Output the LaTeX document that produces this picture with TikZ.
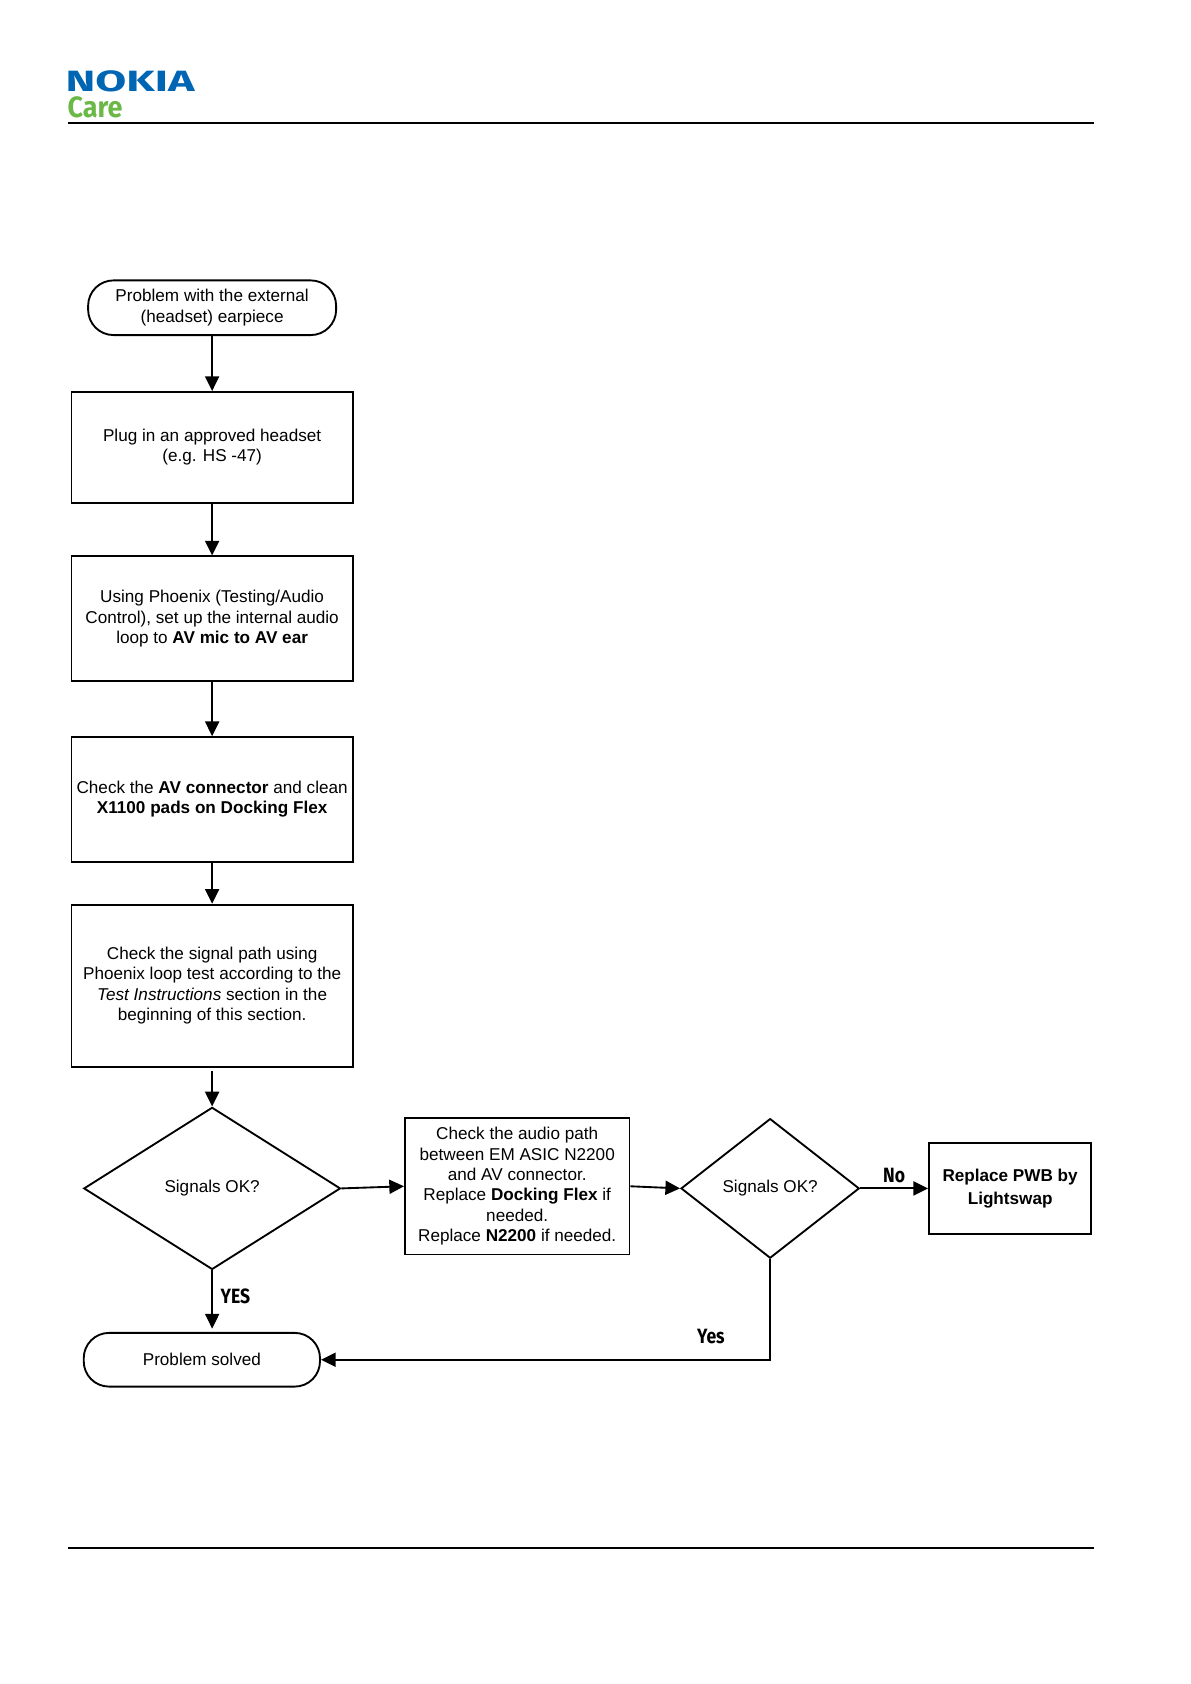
\documentclass[tikz,border=0pt]{standalone}
\usepackage{fontspec}
\setmainfont{Liberation Sans}
\newfontfamily\logofont{Fira Sans}
\usetikzlibrary{shapes,arrows,arrows.meta}
\definecolor{nokiablue}{RGB}{0,101,178}
\definecolor{caregreen}{RGB}{108,184,70}

\begin{document}
\begin{tikzpicture}[
	line width = 1.4pt,
	> = {Triangle[length=11pt, width=10.5pt]},
	every node/.style={font=\fontsize{12.85}{15.3}\selectfont, align=center},
	startnode/.style={rectangle, draw, rounded corners=19pt, minimum width=186pt, minimum height=41pt},
	endnode/.style={rectangle, draw, rounded corners=19pt, minimum width=177.2pt, minimum height=40.3pt},
	boxnode/.style={rectangle, draw, minimum width=211pt, inner sep=1pt},
	choicenode/.style={diamond, draw, inner sep=0pt},
	branchlabel/.style={font=\logofont\bfseries\fontsize{15.5}{17}\selectfont, xscale=0.85},
	]
	\useasboundingbox (0,0) rectangle (893.25pt,-1263pt);
	%Header
	\node[font=\logofont\bfseries\fontsize{22}{22}\selectfont, text=nokiablue, anchor=west, inner sep=0pt, xscale=1.53] (nokia) at (48.2pt,-60.8pt) {NOKIA};
	\node[font=\logofont\bfseries\fontsize{22}{22}\selectfont, text=caregreen, anchor=west, inner sep=0pt, xscale=0.92] (care) at (50pt,-80.8pt) {Care};
	\coordinate (topleft) at (50.7pt,-92.1pt);
	\coordinate (topright) at (820.8pt,-92.1pt);
	\coordinate (bottomleft) at (50.7pt,-1160.7pt);
	\coordinate (bottomright) at (820.8pt,-1160.7pt);

	%Nodes
	\node[startnode] (start) at (159.1pt,-230.8pt) {Problem with the external\\(headset) earpiece};
	\node[boxnode, minimum height=83pt] (plug) [below of = start, node distance=104.7pt] {Plug in an approved headset\\(e.g. HS -47)};
	\node[boxnode, minimum height=93.4pt] (setup) [below of = plug, node distance=128.5pt] {Using Phoenix (Testing/Audio\\Control), set up the internal audio\\loop to \textbf{AV mic to AV ear}};
	\node[boxnode, minimum height=93.4pt] (clean) [below of = setup, node distance=135.5pt] {Check the \textbf{AV connector} and clean\\\textbf{X1100 pads on Docking Flex}};
	\node[boxnode, minimum height=121.6pt] (path) [below of = clean, node distance=139.8pt] {Check the signal path using\\Phoenix loop test according to the\\\textit{Test Instructions} section in the\\beginning of this section.};
	\node[choicenode, minimum width=192.5pt, minimum height=121.6pt] (okfirst) [below of = path, node distance=152pt] {Signals OK?};
	\node[rectangle, draw, minimum width=168.4pt, minimum height=102.3pt, inner sep=1pt, yshift=1.6pt] (audio) [right of = okfirst, node distance=228.8pt] {Check the audio path\\between EM ASIC N2200\\and AV connector.\\Replace \textbf{Docking Flex} if\\needed.\\Replace \textbf{N2200} if needed.};
	\node[choicenode, minimum width=133.7pt, minimum height=104.7pt] (oksecond) [right of = okfirst, node distance=418.5pt] {Signals OK?};
	\node[rectangle, draw, minimum width=121.6pt, minimum height=68.5pt, inner sep=1pt] (swap) [right of = oksecond, node distance=180pt] {\textbf{Replace PWB by}\\[2pt]\textbf{Lightswap}};
	\node[endnode, xshift=-7.7pt] (solved) [below of = okfirst, node distance=128.5pt] {Problem solved};
	\coordinate (corner) at (oksecond.south |- solved.east);

	%Lines
	\draw[->] (start) -- (plug);
	\draw[->] (plug) -- (setup);
	\draw[->] (setup) -- (clean);
	\draw[->] (clean) -- (path);
	\draw[->, shorten <=2.5pt] (path.south) -- (okfirst.north);
	\draw[->] (okfirst.east) -- (audio.west);
	\draw[->] (audio.east) -- (oksecond.west);
	\draw[->] (oksecond.east) -- (swap.west);
	\draw[->, shorten >=2.5pt] (okfirst.south) -- (okfirst.south |- solved.north);
	\draw[->] (oksecond.south) -- (corner) -- (solved.east);
	\draw (topleft) -- (topright);
	\draw (bottomleft) -- (bottomright);

	%Labels
	\node[branchlabel] (yesdown) at (176.6pt,-972.2pt) {YES};
	\node[branchlabel] (yesleft) at (533.2pt,-1002pt) {Yes};
	\node[branchlabel] (noright) at (670.6pt,-881.4pt) {No};
\end{tikzpicture}
\end{document}
